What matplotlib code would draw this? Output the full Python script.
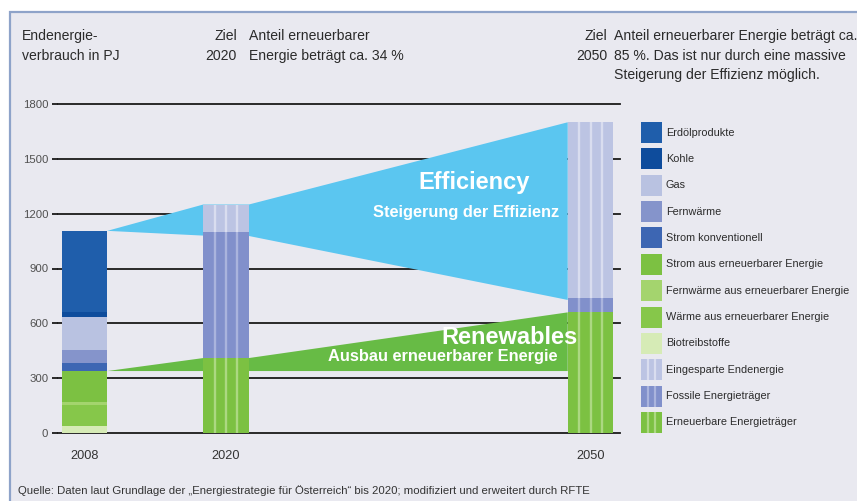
import matplotlib
matplotlib.use("Agg")
import matplotlib.pyplot as plt
from matplotlib.patches import Rectangle, Polygon
from matplotlib import font_manager

# ---------------- data ----------------
years = ["2008", "2020", "2050"]
x_pos = [0.0, 1.0, 3.576]

# 2008 stacked bar (bottom -> top)
cats_2008 = ["Biotreibstoffe", "Wärme aus erneuerbarer Energie",
             "Fernwärme aus erneuerbarer Energie", "Strom aus erneuerbarer Energie",
             "Strom konventionell", "Fernwärme", "Gas", "Kohle", "Erdölprodukte"]
values_2008 = [38, 115, 18, 168, 42, 73, 182, 25, 445]

# target bars 2020 / 2050 (bottom -> top)
renewable = [410, 660]
fossil = [690, 80]
saved = [150, 960]

y_ticks = [0, 300, 600, 900, 1200, 1500, 1800]

legend_labels = ["Erdölprodukte", "Kohle", "Gas", "Fernwärme", "Strom konventionell",
                 "Strom aus erneuerbarer Energie", "Fernwärme aus erneuerbarer Energie",
                 "Wärme aus erneuerbarer Energie", "Biotreibstoffe",
                 "Eingesparte Endenergie", "Fossile Energieträger", "Erneuerbare Energieträger"]

# ---------------- styles ----------------
col = {
    "Erdölprodukte": "#1f5eab",
    "Kohle": "#0e4c9c",
    "Gas": "#b9c2e1",
    "Fernwärme": "#8594cb",
    "Strom konventionell": "#3d66b3",
    "Strom aus erneuerbarer Energie": "#7cc142",
    "Fernwärme aus erneuerbarer Energie": "#a4d46e",
    "Wärme aus erneuerbarer Energie": "#86c74a",
    "Biotreibstoffe": "#d6ebb6",
    "Eingesparte Endenergie": "#bcc4e3",
    "Fossile Energieträger": "#8190cb",
    "Erneuerbare Energieträger": "#7cc142",
}
stripe = {
    "Eingesparte Endenergie": "#d9ddef",
    "Fossile Energieträger": "#aab4dd",
    "Erneuerbare Energieträger": "#acd882",
}

avail = {f.name for f in font_manager.fontManager.ttflist}
NARROW = "Liberation Sans Narrow" if "Liberation Sans Narrow" in avail else None
REG = ["Liberation Sans", "DejaVu Sans"]

def nfont(size_narrow, size_reg):
    if NARROW:
        return dict(family=[NARROW, "Liberation Sans", "DejaVu Sans"], fontsize=size_narrow)
    return dict(family=REG, fontsize=size_reg)

W, H = 857, 501
fig = plt.figure(figsize=(W / 100, H / 100), dpi=100)
fig.patch.set_facecolor("white")

# background frame
fig.patches.append(Rectangle((10 / W, -0.1), 1.2, (H - 12) / H + 0.1,
                             transform=fig.transFigure, facecolor="#e9e9f0",
                             edgecolor="#8ea3c9", lw=1.6, zorder=-10))

px0 = 84.5
scale = 141.5
ax_left, ax_right, ax_top, ax_bot = 58, 620, 104, 433
ax = fig.add_axes([ax_left / W, (H - ax_bot) / H, (ax_right - ax_left) / W, (ax_bot - ax_top) / H])
ax.set_facecolor("none")
ax.set_xlim((ax_left - px0) / scale, (ax_right - px0) / scale)
ax.set_ylim(0, 1800)
for s in ax.spines.values():
    s.set_visible(False)
ax.set_yticks(y_ticks)
ax.set_yticklabels([str(v) for v in y_ticks], family=REG, fontsize=8.2, color="#505050")
ax.tick_params(axis="y", length=4.5, width=1.3, color="#1a1a1a", pad=2.5)
ax.set_xticks(x_pos)
ax.set_xticklabels(years, family=REG, fontsize=9.2, color="#333333")
ax.tick_params(axis="x", length=0, pad=12)
ax.grid(axis="y", color="#1a1a1a", lw=1.3)
ax.set_axisbelow(True)
for gl in ax.get_ygridlines():
    gl.set_clip_on(False)

w = 0.322

# wedges
tot = [sum(values_2008)] + [r + f + s for r, f, s in zip(renewable, fossil, saved)]
fos_top = [r + f for r, f in zip(renewable, fossil)]
ren_2008 = sum(values_2008[:4])
blue_pts = [(x_pos[0] + w / 2, tot[0]),
            (x_pos[1] - w / 2, tot[1]), (x_pos[1] + w / 2, tot[1]),
            (x_pos[2] - w / 2, tot[2]), (x_pos[2] - w / 2, fos_top[1] - 12),
            (x_pos[1] + w / 2, fos_top[0] - 22), (x_pos[1] - w / 2, fos_top[0] - 20)]
ax.add_patch(Polygon(blue_pts, closed=True, facecolor="#5bc6f0", edgecolor="none", zorder=2))
green_pts = [(x_pos[0] + w / 2, ren_2008),
             (x_pos[1] - w / 2, renewable[0]), (x_pos[1] + w / 2, renewable[0]),
             (x_pos[2] - w / 2, renewable[1]), (x_pos[2] - w / 2, ren_2008)]
ax.add_patch(Polygon(green_pts, closed=True, facecolor="#67bb45", edgecolor="none", zorder=2))

# 2008 stacked bar
bottom = 0
for c, v in zip(cats_2008, values_2008):
    ax.bar(x_pos[0], v, width=w, bottom=bottom, color=col[c], zorder=3, linewidth=0)
    bottom += v

# striped target bars
for i in range(2):
    x = x_pos[i + 1]
    bottom = 0
    for name, v in [("Erneuerbare Energieträger", renewable[i]),
                    ("Fossile Energieträger", fossil[i]),
                    ("Eingesparte Endenergie", saved[i])]:
        ax.bar(x, v, width=w, bottom=bottom, color=col[name], zorder=3, linewidth=0)
        xs = [x + w * (f - 0.5) for f in (0.25, 0.5, 0.75)]
        ax.vlines(xs, bottom, bottom + v, color=stripe[name], lw=1.7, zorder=4)
        bottom += v

# overlay axes in pixel coords for annotations / legend
ov = fig.add_axes([0, 0, 1, 1])
ov.set_xlim(0, W)
ov.set_ylim(H, 0)
ov.axis("off")
ov.set_facecolor("none")

bold = dict(family=REG, fontweight="bold", color="white", ha="center", va="center")
ov.text(474, 182, "Efficiency", fontsize=17, **bold)
ov.text(466, 212, "Steigerung der Effizienz", fontsize=11.8, **bold)
ov.text(510, 337, "Renewables", fontsize=17, **bold)
ov.text(443, 357, "Ausbau erneuerbarer Energie", fontsize=11.8, **bold)

hdr = dict(color="#2b2b2b", va="center", **nfont(11.4, 10.1))
ov.text(22, 35.5, "Endenergie-", ha="left", **hdr)
ov.text(22, 55.7, "verbrauch in PJ", ha="left", **hdr)
ov.text(237, 35.5, "Ziel", ha="right", **hdr)
ov.text(237, 55.7, "2020", ha="right", **hdr)
ov.text(249, 35.5, "Anteil erneuerbarer", ha="left", **hdr)
ov.text(249, 55.7, "Energie beträgt ca. 34 %", ha="left", **hdr)
ov.text(607, 35.5, "Ziel", ha="right", **hdr)
ov.text(607, 55.7, "2050", ha="right", **hdr)
ov.text(614, 35.5, "Anteil erneuerbarer Energie beträgt ca.", ha="left", **hdr)
ov.text(614, 55.7, "85 %. Das ist nur durch eine massive", ha="left", **hdr)
ov.text(614, 75, "Steigerung der Effizienz möglich.", ha="left", **hdr)

ov.text(18, 491, "Quelle: Daten laut Grundlage der „Energiestrategie für Österreich“ bis 2020; "
        "modifiziert und erweitert durch RFTE", ha="left", va="center", color="#333333",
        **nfont(9.7, 8.2))

# legend
leg_font = nfont(9.2, 7.8)
for i, lab in enumerate(legend_labels):
    yc = 132.5 + i * 26.36
    ov.add_patch(Rectangle((641, yc - 10.5), 21, 21, facecolor=col[lab], edgecolor="none"))
    if lab in stripe:
        ov.vlines([641 + 7, 641 + 14], yc - 10.5, yc + 10.5, color=stripe[lab], lw=1.6)
    ov.text(666, yc, lab, ha="left", va="center", color="#2b2b2b", **leg_font)

fig.savefig("out.png", dpi=100, facecolor=fig.get_facecolor())
